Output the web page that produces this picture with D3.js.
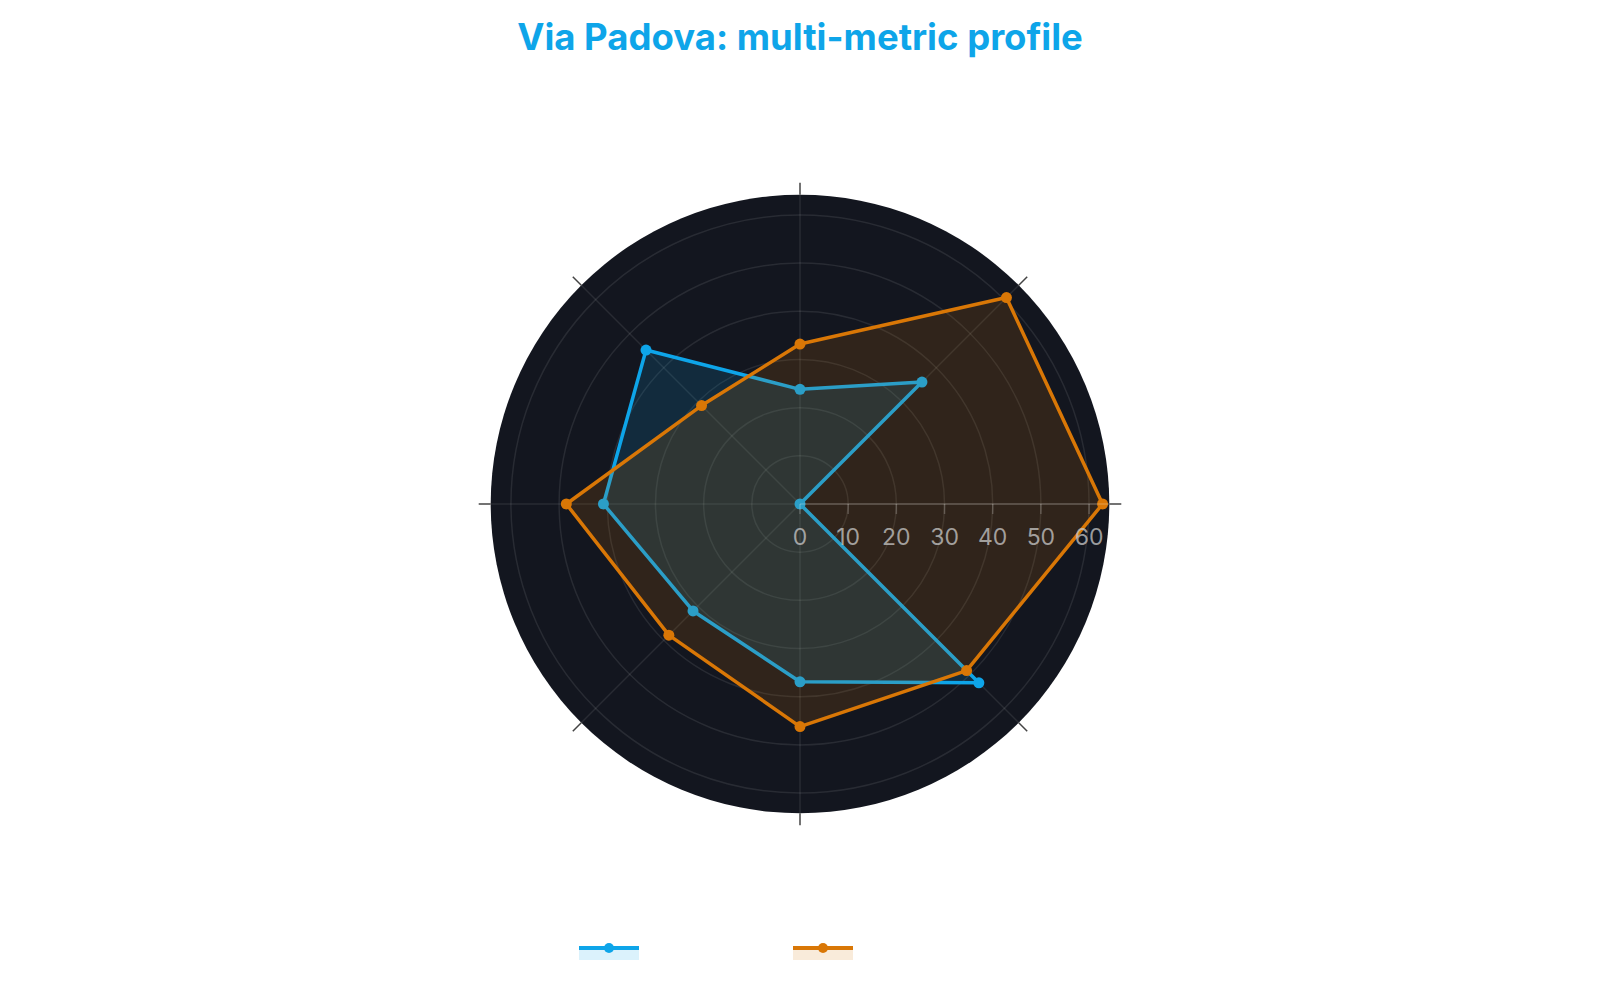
<!DOCTYPE html>
<html>
<head>
<meta charset="utf-8">
<script src="https://cdn.jsdelivr.net/npm/d3@7"></script>
<style>
  html, body { margin: 0; padding: 0; background: #fff; }
  svg { display: block; font-family: Inter, "Noto Sans", sans-serif; }
</style>
</head>
<body>
<svg id="chart" width="1600" height="1000"></svg>
<script>
// data, counter-clockwise from the east axis
var axisCount = 8;
var radialTicks = [0, 10, 20, 30, 40, 50, 60];
var radialMax = 64.2;
var blueValues = [0, 35.8, 23.8, 45.2, 40.8, 31.4, 36.9, 52.5];
var orangeValues = [62.8, 60.6, 33.2, 28.9, 48.5, 38.5, 46.2, 48.9];
var seriesColors = ["#0ea5e9", "#d97706"];

var svg = d3.select("#chart");
var cx = 800, cy = 504, outerR = 309.3;

var rScale = d3.scaleLinear().domain([0, radialMax]).range([0, outerR]);
// angle measured from east, counter-clockwise
var aScale = d3.scaleLinear().domain([0, axisCount]).range([0, 2 * Math.PI]);

function px(i, v) { return cx + rScale(v) * Math.cos(aScale(i)); }
function py(i, v) { return cy - rScale(v) * Math.sin(aScale(i)); }

// titre
svg.append("text")
    .attr("x", 800).attr("y", 50)
    .attr("text-anchor", "middle")
    .attr("font-size", 36.5)
    .attr("font-weight", 700)
    .attr("fill", "#0ea5e9")
    .text("Via Padova: multi-metric profile");

var g = svg.append("g");

// fond du polaire
g.append("circle").attr("cx", cx).attr("cy", cy).attr("r", outerR).attr("fill", "#13161f");

// cercles de grille
radialTicks.slice(1).forEach(t => {
    g.append("circle")
        .attr("cx", cx).attr("cy", cy).attr("r", rScale(t))
        .attr("fill", "none")
        .attr("stroke", "rgba(255,255,255,0.09)")
        .attr("stroke-width", 1.5);
});

// rayons + ticks extérieurs
d3.range(axisCount).forEach(i => {
    g.append("line")
        .attr("x1", cx).attr("y1", cy)
        .attr("x2", px(i, radialMax)).attr("y2", py(i, radialMax))
        .attr("stroke", "rgba(255,255,255,0.09)")
        .attr("stroke-width", 1.5);
    var a = aScale(i);
    g.append("line")
        .attr("x1", cx + outerR * Math.cos(a)).attr("y1", cy - outerR * Math.sin(a))
        .attr("x2", cx + (outerR + 12) * Math.cos(a)).attr("y2", cy - (outerR + 12) * Math.sin(a))
        .attr("stroke", "#444")
        .attr("stroke-width", 1.5);
});

// séries
var radial = d3.lineRadial()
    .angle((d, i) => Math.PI / 2 - aScale(i))
    .radius(d => rScale(d))
    .curve(d3.curveLinearClosed);

[blueValues, orangeValues].forEach((vals, k) => {
    var col = seriesColors[k];
    var s = g.append("g").attr("transform", "translate(" + cx + "," + cy + ")");
    s.append("path")
        .attr("d", radial(vals))
        .attr("fill", col)
        .attr("fill-opacity", 0.15)
        .attr("stroke", col)
        .attr("stroke-width", 3.5)
        .attr("stroke-linejoin", "round");
    s.selectAll("circle").data(vals).enter().append("circle")
        .attr("cx", (d, i) => rScale(d) * Math.cos(aScale(i)))
        .attr("cy", (d, i) => -rScale(d) * Math.sin(aScale(i)))
        .attr("r", 5.5)
        .attr("fill", col);
});

// axe radial
g.append("line")
    .attr("x1", cx).attr("y1", cy)
    .attr("x2", cx + outerR).attr("y2", cy)
    .attr("stroke", "rgba(255,255,255,0.2)")
    .attr("stroke-width", 1.5);

radialTicks.forEach(t => {
    g.append("line")
        .attr("x1", cx + rScale(t)).attr("y1", cy)
        .attr("x2", cx + rScale(t)).attr("y2", cy + 10)
        .attr("stroke", "rgba(255,255,255,0.2)")
        .attr("stroke-width", 1.5);
    g.append("text")
        .attr("x", cx + rScale(t)).attr("y", cy + 41)
        .attr("text-anchor", "middle")
        .attr("font-size", 23)
        .attr("fill", "rgba(200,200,200,0.75)")
        .text(t);
});

// légende
var legendX = [579, 793];
seriesColors.forEach((col, k) => {
    var lg = svg.append("g").attr("transform", "translate(" + legendX[k] + ",948)");
    lg.append("rect").attr("x", 0).attr("y", 0).attr("width", 60).attr("height", 12)
        .attr("fill", col).attr("fill-opacity", 0.15);
    lg.append("line").attr("x1", 0).attr("x2", 60).attr("y1", 0).attr("y2", 0)
        .attr("stroke", col).attr("stroke-width", 4);
    lg.append("circle").attr("cx", 30).attr("cy", 0).attr("r", 5).attr("fill", col);
});
</script>
</body>
</html>
